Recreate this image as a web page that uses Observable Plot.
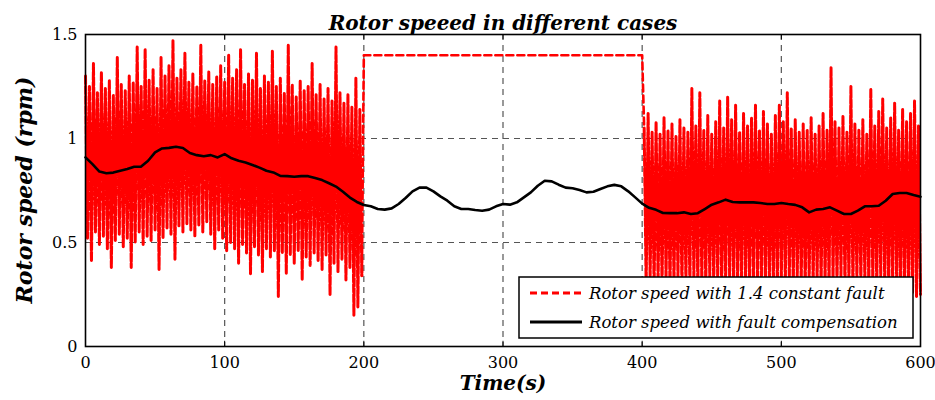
<!DOCTYPE html>
<html><head><meta charset="utf-8">
<script src="https://cdn.jsdelivr.net/npm/d3@7"></script>
<script src="https://cdn.jsdelivr.net/npm/@observablehq/plot@0.6"></script>
<style>body{margin:0;background:#fff}</style>
</head><body><div id="chart"></div>
<script>
const titleText = "Rotor speeed in different cases";
const xLabel = "Time(s)";
const yLabel = "Rotor speed (rpm)";
const legendLabels = ["Rotor speed with 1.4 constant fault", "Rotor speed with fault compensation"];
const xTicks = [0, 100, 200, 300, 400, 500, 600];
const yTicks = [0, 0.5, 1, 1.5];
const faultLevel = 1.4;
const faultStart = 200, faultEnd = 400;

// noisy rotor speed, 0-200 s (alternating peaks / troughs)
const redSeg1 = [
1.30,0.52, 1.25,0.41, 1.36,0.55, 1.22,0.49, 1.32,0.53, 1.24,0.47, 1.28,0.38, 1.21,0.51, 1.39,0.54, 1.26,0.48,
1.23,0.52, 1.30,0.38, 1.27,0.50, 1.44,0.55, 1.25,0.49, 1.43,0.53, 1.28,0.51, 1.33,0.56, 1.24,0.37, 1.39,0.52,
1.30,0.57, 1.35,0.54, 1.47,0.42, 1.29,0.58, 1.33,0.55, 1.41,0.59, 1.27,0.56, 1.31,0.53, 1.25,0.58, 1.45,0.55,
1.28,0.60, 1.32,0.54, 1.26,0.47, 1.30,0.56, 1.35,0.52, 1.27,0.46, 1.40,0.50, 1.29,0.47, 1.33,0.40, 1.43,0.49,
1.26,0.45, 1.31,0.35, 1.28,0.48, 1.41,0.44, 1.24,0.36, 1.30,0.47, 1.27,0.43, 1.42,0.46, 1.25,0.24, 1.29,0.45,
1.22,0.35, 1.45,0.44, 1.26,0.40, 1.20,0.46, 1.28,0.32, 1.23,0.43, 1.25,0.39, 1.36,0.45, 1.21,0.41, 1.26,0.37,
1.19,0.44, 1.24,0.25, 1.18,0.40, 1.44,0.36, 1.22,0.42, 1.17,0.32, 1.21,0.38, 1.15,0.15, 1.29,0.19, 1.14,0.34
];
// noisy rotor speed, 400-600 s
const redSeg3 = [
1.05,0.30, 1.12,0.33, 1.03,0.28, 1.08,0.31, 1.02,0.29, 1.10,0.32, 1.04,0.27, 1.07,0.30, 1.01,0.33, 1.09,0.28,
1.05,0.31, 1.03,0.29, 1.24,0.32, 1.06,0.27, 1.22,0.30, 1.04,0.28, 1.11,0.33, 1.02,0.29, 1.08,0.31, 1.18,0.27,
1.05,0.30, 1.20,0.32, 1.09,0.28, 1.16,0.31, 1.03,0.29, 1.12,0.33, 1.06,0.27, 1.10,0.30, 1.16,0.32, 1.04,0.28,
1.13,0.31, 1.07,0.29, 1.02,0.30, 1.11,0.27, 1.16,0.32, 1.08,0.29, 1.22,0.31, 1.05,0.28, 1.09,0.33, 1.03,0.30,
1.07,0.27, 1.04,0.31, 1.10,0.29, 1.02,0.32, 1.06,0.28, 1.12,0.30, 1.04,0.27, 1.34,0.31, 1.08,0.29, 1.05,0.33,
1.11,0.28, 1.03,0.30, 1.25,0.27, 1.07,0.32, 1.04,0.29, 1.09,0.31, 1.02,0.28, 1.24,0.30, 1.06,0.27, 1.13,0.32,
1.19,0.29, 1.05,0.26, 1.10,0.30, 1.17,0.28, 1.04,0.25, 1.14,0.29, 1.08,0.27, 1.12,0.26, 1.18,0.24, 1.06,0.25
];
// compensated rotor speed, sampled every 5 s from 0 to 600
const compV = [
0.909,0.877,0.841,0.833,0.836,0.845,0.853,0.864,0.865,0.893,0.933,0.952,0.955,0.960,0.954,0.930,0.920,0.915,0.920,0.909,
0.925,0.905,0.893,0.885,0.873,0.860,0.845,0.837,0.820,0.819,0.816,0.819,0.819,0.810,0.800,0.785,0.769,0.744,0.716,0.695,
0.680,0.674,0.661,0.658,0.664,0.685,0.714,0.746,0.764,0.764,0.746,0.722,0.701,0.674,0.661,0.661,0.656,0.653,0.658,0.674,
0.685,0.682,0.693,0.717,0.741,0.773,0.797,0.794,0.778,0.764,0.761,0.752,0.741,0.744,0.757,0.770,0.777,0.770,0.746,0.717,
0.687,0.667,0.657,0.642,0.641,0.641,0.645,0.637,0.641,0.661,0.682,0.693,0.706,0.695,0.693,0.693,0.693,0.690,0.685,0.685,
0.690,0.685,0.681,0.669,0.645,0.658,0.661,0.669,0.653,0.637,0.637,0.653,0.674,0.674,0.677,0.701,0.733,0.738,0.738,0.728,
0.720
];

const dt = 200 / redSeg1.length;
const noisy1 = redSeg1.map((v, i) => ({t: i * dt, v, seg: "a"}));
const noisy3 = redSeg3.map((v, i) => ({t: faultEnd + (i + 1) * dt, v, seg: "b"}));
const faultPart = [
  noisy1[noisy1.length - 1],
  {t: faultStart, v: faultLevel},
  {t: faultEnd, v: faultLevel},
  noisy3[0]
];
const compData = compV.map((v, i) => ({t: i * 5, v}));
const inner = xTicks.slice(1, -1);

const serif = "DejaVu Serif";
const plot = Plot.plot({
  width: 935, height: 400,
  marginLeft: 85, marginRight: 15, marginTop: 34, marginBottom: 54,
  style: {fontFamily: serif, fontSize: "16px", background: "white", color: "black"},
  x: {domain: [0, 600], label: null},
  y: {domain: [0, 1.5], label: null},
  marks: [
    Plot.gridX(inner, {stroke: "#555", strokeOpacity: 1, strokeWidth: 1.2, strokeDasharray: "6,5"}),
    Plot.gridY([0.5, 1], {stroke: "#555", strokeOpacity: 1, strokeWidth: 1.2, strokeDasharray: "6,5"}),
    Plot.ruleX(inner, {y1: 0, y2: 0.025, stroke: "black"}),
    Plot.ruleX(inner, {y1: 1.475, y2: 1.5, stroke: "black"}),
    Plot.line([...noisy1, ...noisy3], {x: "t", y: "v", z: "seg", stroke: "#ff0000", strokeWidth: 3, strokeDasharray: "8,2"}),
    Plot.line(faultPart, {x: "t", y: "v", stroke: "#ff0000", strokeWidth: 2.6, strokeDasharray: "7,4"}),
    Plot.line(compData, {x: "t", y: "v", stroke: "black", strokeWidth: 2.6}),
    Plot.frame({stroke: "black", strokeWidth: 1.6}),
    Plot.axisX({ticks: xTicks, tickSize: 0, tickPadding: 10, fontSize: 16, label: null, tickFormat: d => String(d)}),
    Plot.axisY({ticks: yTicks, tickSize: 0, tickPadding: 8, fontSize: 16, label: null, tickFormat: d => String(d)}),
    Plot.text([titleText], {frameAnchor: "top", dy: -19, fontSize: 20, fontWeight: "bold", fontStyle: "italic", fontFamily: serif}),
    Plot.text([xLabel], {frameAnchor: "bottom", dy: 43, fontSize: 20, fontWeight: "bold", fontStyle: "italic", fontFamily: serif})
  ]
});
document.getElementById("chart").append(plot);

const svg = d3.select(plot);
// y axis label
svg.append("text")
  .attr("transform", "translate(24,190) rotate(-90)")
  .attr("text-anchor", "middle").attr("dy", "0.35em")
  .attr("font-family", serif).attr("font-weight", "bold").attr("font-style", "italic")
  .attr("font-size", 22).attr("fill", "black").text(yLabel);

// legend
const lg = svg.append("g").attr("font-family", serif).attr("font-style", "italic").attr("font-size", 16.5).attr("text-anchor", "start");
lg.append("rect").attr("x", 519).attr("y", 277).attr("width", 394).attr("height", 61)
  .attr("fill", "white").attr("stroke", "black").attr("stroke-width", 1.5);
const rows = [
  {y: 293, stroke: "#ff0000", dash: "7,4", w: 3},
  {y: 322, stroke: "black", dash: null, w: 3}
];
rows.forEach((r, i) => {
  lg.append("line").attr("x1", 530).attr("x2", 582).attr("y1", r.y).attr("y2", r.y)
    .attr("stroke", r.stroke).attr("stroke-width", r.w).attr("stroke-dasharray", r.dash);
  lg.append("text").attr("x", 589).attr("y", r.y).attr("dy", "0.35em").attr("fill", "black").text(legendLabels[i]);
});
</script>
</body></html>
